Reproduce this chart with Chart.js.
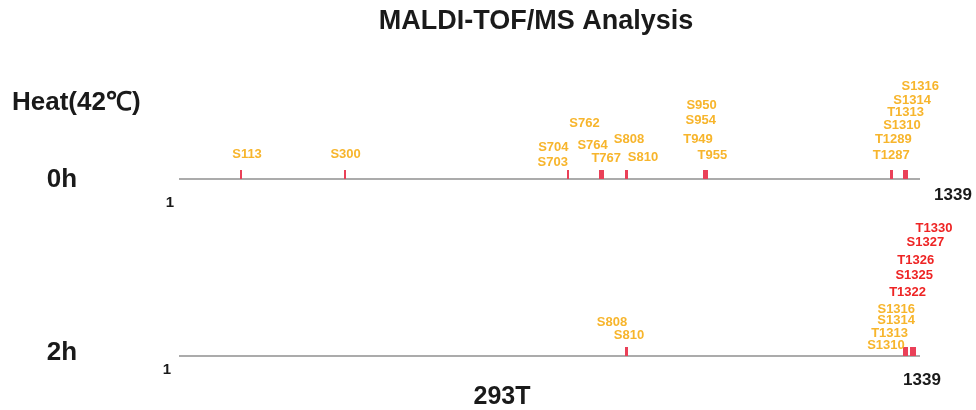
<!DOCTYPE html>
<html>
<head>
<meta charset="utf-8">
<title>MALDI-TOF/MS Analysis</title>
<script src="https://cdn.jsdelivr.net/npm/chart.js@4.4.0/dist/chart.umd.min.js"></script>
<style>
  html, body { margin: 0; padding: 0; background: #fff; }
  #wrap { width: 976px; height: 410px; }
</style>
</head>
<body>
<div id="wrap"><canvas id="chart" width="976" height="410"></canvas></div>
<script>
// ---- data ----
const proteinLength = 1339;
const cellLine      = '293T';
const timepoints    = ['0h', '2h'];
const sites0h = ['S113','S300','S703','S704','S762','S764','T767','S808','S810','T949','S950','S954','T955',
                 'T1287','T1289','S1310','T1313','S1314','S1316'];
const sites2h = ['S808','S810','S1310','T1313','S1314','S1316','T1322','S1325','T1326','S1327','T1330'];

// ---- label placement: px offset of each label from its tick ----
const offsets0h = [[6,-25],[1,-25],[-15,-17],[-15,-32],[-16,-56],[-9,-34],[3,-21],[3,-40],[16,-22],
                   [-6,-40],[-3,-74],[-6,-59],[5,-24],[0,-24],[1,-40],[-2,-54],[0,-67],[6,-79],[13,-93]];
const offsets2h = [[-14,-34],[2,-21],[-18,-11],[-16,-23],[-10,-36],[-11,-47],[-3,-64],[2,-81],[3,-96],[12,-114],[19,-128]];

const GOLD = '#f7b52c';
const RED  = '#ee2424';
const TICK = '#ea4058';
const AXIS = '#ababab';
const FONT = '"Liberation Sans", Arial, sans-serif';

const residue = s => parseInt(s.slice(1), 10);
const rows = [
  { name: timepoints[0], y: 1, sites: sites0h, offsets: offsets0h },
  { name: timepoints[1], y: 0, sites: sites2h, offsets: offsets2h }
];

// tick mark image: red stroke sitting on top of the backbone
function tickMark(color) {
  const c = document.createElement('canvas');
  c.width = 2; c.height = 18;
  const g = c.getContext('2d');
  g.fillStyle = color;
  g.fillRect(0, 0, 2, 9);
  return c;
}

const tickDatasets = rows.map(r => ({
  type: 'scatter',
  data: r.sites.map(s => ({ x: residue(s), y: r.y })),
  pointStyle: tickMark(TICK),
  pointRadius: 5,
  clip: false,
  order: 0
}));
const lineDatasets = rows.map(r => ({
  type: 'line',
  data: [{ x: 1, y: r.y }, { x: proteinLength, y: r.y }],
  borderColor: AXIS,
  borderWidth: 2,
  pointRadius: 0,
  clip: false,
  order: 1
}));

const siteLabels = {
  id: 'siteLabels',
  afterDatasetsDraw(chart) {
    const ctx = chart.ctx;
    const xs = chart.scales.x, ys = chart.scales.y;
    ctx.save();
    ctx.textAlign = 'center';
    ctx.textBaseline = 'middle';

    // site labels
    ctx.font = 'bold 13px ' + FONT;
    rows.forEach((row, r) => {
      const meta = chart.getDatasetMeta(r);
      row.sites.forEach((s, i) => {
        const pt = meta.data[i];
        const [dx, dy] = row.offsets[i];
        ctx.fillStyle = (r > 0 && !sites0h.includes(s)) ? RED : GOLD;
        ctx.fillText(s, pt.x + dx, pt.y + dy);
      });
    });

    ctx.fillStyle = '#1a1a1a';
    const x0 = xs.getPixelForValue(1), x1 = xs.getPixelForValue(proteinLength);
    const yTop = ys.getPixelForValue(1), yBot = ys.getPixelForValue(0);

    // ends of each backbone
    ctx.font = 'bold 15px ' + FONT;
    ctx.fillText('1', x0 - 9, yTop + 24);
    ctx.fillText('1', x0 - 12, yBot + 14);
    ctx.font = 'bold 17px ' + FONT;
    ctx.fillText(String(proteinLength), x1 + 33, yTop + 16);
    ctx.fillText(String(proteinLength), x1 + 2, yBot + 24);

    // row names
    ctx.font = 'bold 26px ' + FONT;
    ctx.fillText(rows[0].name, 62, yTop + 1);
    ctx.fillText(rows[1].name, 62, yBot - 3);

    ctx.font = 'bold 27px ' + FONT;
    ctx.fillText('MALDI-TOF/MS Analysis', 536, 22);
    ctx.font = 'bold 25px ' + FONT;
    ctx.fillText(cellLine, 502, 397);
    ctx.textAlign = 'left';
    ctx.font = 'bold 26px ' + FONT;
    ctx.fillText('Heat(42℃)', 12, 103);
    ctx.restore();
  }
};

new Chart(document.getElementById('chart'), {
  data: { datasets: [...tickDatasets, ...lineDatasets] },
  options: {
    responsive: false,
    devicePixelRatio: 1,
    animation: false,
    layout: { padding: { left: 179, right: 56, top: 179, bottom: 54 } },
    scales: {
      x: { type: 'linear', min: 1, max: proteinLength, display: false },
      y: { type: 'linear', min: 0, max: 1, display: false }
    },
    plugins: { legend: { display: false }, tooltip: { enabled: false } }
  },
  plugins: [siteLabels]
});
</script>
</body>
</html>
